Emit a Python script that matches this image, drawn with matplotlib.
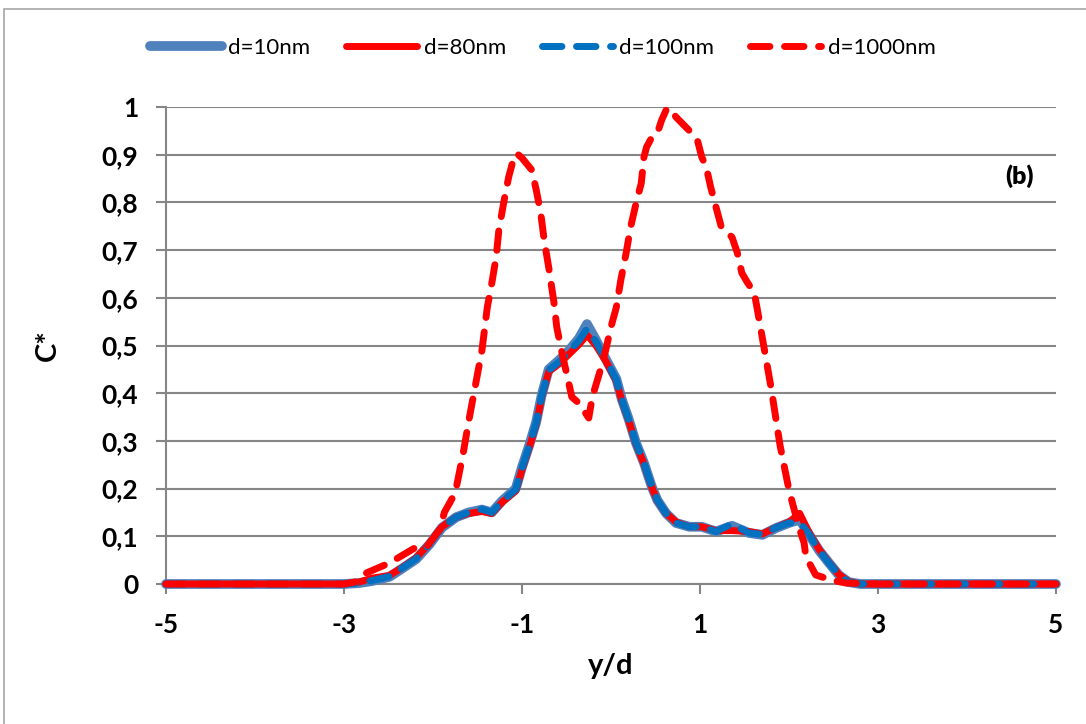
import matplotlib
matplotlib.use("Agg")
import matplotlib.pyplot as plt
from matplotlib.patches import Rectangle

plt.rcParams['font.family'] = ['Lato', 'DejaVu Sans']

# shared y/d positions for the three near-identical profiles
x_small = [-5, -4.5, -4, -3.5, -3, -2.83, -2.69, -2.49, -2.35, -2.19,
           -2.04, -1.90, -1.74, -1.60, -1.45, -1.34, -1.22, -1.07, -1.0, -0.92,
           -0.84, -0.78, -0.70, -0.58, -0.47, -0.36, -0.27, -0.17, -0.06, 0.06,
           0.12, 0.20, 0.28, 0.37, 0.46, 0.52, 0.62, 0.73, 0.88, 1.02,
           1.18, 1.36, 1.55, 1.70, 1.85, 2.0, 2.12, 2.22, 2.34, 2.45,
           2.56, 2.67, 2.8, 3, 3.5, 4, 4.5, 5]

c_10 = [0, 0, 0, 0, 0, 0.002, 0.006, 0.015, 0.032, 0.052,
        0.083, 0.118, 0.14, 0.15, 0.156, 0.15, 0.175, 0.2, 0.245, 0.29,
        0.34, 0.395, 0.45, 0.47, 0.49, 0.515, 0.545, 0.512, 0.472, 0.43,
        0.388, 0.345, 0.296, 0.254, 0.203, 0.176, 0.148, 0.128, 0.12, 0.12,
        0.11, 0.122, 0.107, 0.103, 0.117, 0.128, 0.135, 0.105, 0.07, 0.044,
        0.019, 0.004, 0, 0, 0, 0, 0, 0]

c_80 = [0, 0, 0, 0, 0, 0.004, 0.012, 0.018, 0.034, 0.055,
        0.085, 0.12, 0.14, 0.148, 0.152, 0.148, 0.172, 0.195, 0.24, 0.285,
        0.335, 0.39, 0.445, 0.462, 0.482, 0.502, 0.522, 0.50, 0.468, 0.425,
        0.385, 0.342, 0.294, 0.252, 0.202, 0.175, 0.148, 0.13, 0.12, 0.12,
        0.112, 0.112, 0.11, 0.105, 0.118, 0.13, 0.148, 0.11, 0.072, 0.045,
        0.02, 0.005, 0, 0, 0, 0, 0, 0]

c_100 = [0, 0, 0, 0, 0, 0.002, 0.007, 0.016, 0.033, 0.053,
         0.084, 0.119, 0.14, 0.15, 0.157, 0.15, 0.174, 0.198, 0.243, 0.288,
         0.338, 0.393, 0.448, 0.466, 0.487, 0.51, 0.535, 0.508, 0.47, 0.428,
         0.387, 0.344, 0.296, 0.254, 0.203, 0.176, 0.148, 0.128, 0.12, 0.12,
         0.11, 0.126, 0.107, 0.104, 0.118, 0.128, 0.13, 0.106, 0.07, 0.044,
         0.019, 0.004, 0, 0, 0, 0, 0, 0]

x_1000 = [-5, -4.5, -4, -3.5, -3, -2.85, -2.75, -2.49, -2.21, -2.07,
          -1.93, -1.87, -1.75, -1.66, -1.60, -1.52, -1.45, -1.39, -1.34, -1.29,
          -1.26, -1.20, -1.15, -1.09, -1.06, -1.0, -0.89, -0.84, -0.79, -0.75,
          -0.70, -0.64, -0.61, -0.55, -0.49, -0.44, -0.36, -0.25, -0.21, -0.13,
          -0.06, 0.0, 0.06, 0.11, 0.17, 0.22, 0.29, 0.34, 0.37, 0.40,
          0.46, 0.52, 0.57, 0.63, 0.67, 0.73, 0.84, 0.91, 0.97, 1.02,
          1.07, 1.12, 1.18, 1.24, 1.36, 1.42, 1.47, 1.53, 1.61, 1.64,
          1.80, 1.90, 2.0, 2.11, 2.17, 2.19, 2.30, 2.48, 2.64, 3,
          3.5, 4, 4.5, 5]

c_1000 = [0, 0, 0, 0, 0, 0.005, 0.023, 0.044, 0.075, 0.078,
          0.113, 0.151, 0.191, 0.275, 0.34, 0.42, 0.49, 0.58, 0.63, 0.686,
          0.742, 0.805, 0.853, 0.895, 0.903, 0.893, 0.868, 0.826, 0.778, 0.72,
          0.664, 0.589, 0.539, 0.484, 0.434, 0.392, 0.379, 0.348, 0.392, 0.442,
          0.49, 0.539, 0.58, 0.637, 0.694, 0.748, 0.805, 0.84, 0.895, 0.916,
          0.937, 0.945, 0.973, 0.998, 0.994, 0.979, 0.958, 0.945, 0.931, 0.895,
          0.874, 0.832, 0.79, 0.748, 0.727, 0.694, 0.652, 0.633, 0.61, 0.58,
          0.41, 0.29, 0.197, 0.12, 0.086, 0.057, 0.019, 0.008, 0.002, 0,
          0, 0, 0, 0]

x_ticks = [-5, -3, -1, 1, 3, 5]
y_ticks = [0, 0.1, 0.2, 0.3, 0.4, 0.5, 0.6, 0.7, 0.8, 0.9, 1]
y_ticklabels = ['0', '0,1', '0,2', '0,3', '0,4', '0,5', '0,6', '0,7', '0,8', '0,9', '1']

fig = plt.figure(figsize=(10.86, 7.24), dpi=100)
ax = fig.add_axes([166 / 1086, 1 - 584 / 724, 890 / 1086, 477 / 724])

# light frame around the whole chart, like the Excel chart area
fig.patches.append(Rectangle((4 / 1086, -0.05), 1.1, 1.05 - 9 / 724,
                             transform=fig.transFigure, fill=False,
                             edgecolor='#a6a6a6', linewidth=1.2))

dash = (0, (2.8, 2.1))
ax.plot(x_small, c_10, color='#4f81bd', lw=7, solid_capstyle='round',
        label='d=10nm', clip_on=False, zorder=3)
ax.plot(x_small, c_80, color='#ff0000', lw=5, solid_capstyle='round',
        label='d=80nm', clip_on=False, zorder=4)
ax.plot(x_small, c_100, color='#0070c0', lw=5, linestyle=dash, dash_capstyle='round',
        label='d=100nm', clip_on=False, zorder=5)
ax.plot(x_1000, c_1000, color='#ff0000', lw=5, linestyle=dash, dash_capstyle='round',
        label='d=1000nm', clip_on=False, zorder=6)

ax.set_xlim(-5, 5)
ax.set_ylim(0, 1)
ax.set_xticks(x_ticks)
ax.set_xticklabels([str(t) for t in x_ticks])
ax.set_yticks(y_ticks)
ax.set_yticklabels(y_ticklabels)

ax.grid(axis='y', color='#868686', lw=1.5, zorder=1)
ax.set_axisbelow(True)
for s in ['top', 'right']:
    ax.spines[s].set_visible(False)
ax.spines['left'].set_color('#868686')
ax.spines['left'].set_linewidth(1.5)
ax.spines['bottom'].set_color('#868686')
ax.spines['bottom'].set_linewidth(1.5)
ax.tick_params(axis='both', colors='#868686', width=1.5, length=7,
               labelcolor='black', labelsize=19)
ax.tick_params(axis='y', pad=13)
ax.tick_params(axis='x', pad=14)
for lab in ax.get_xticklabels() + ax.get_yticklabels():
    lab.set_fontweight('bold')

ax.set_xlabel('y/d', fontsize=21, fontweight='bold')
ax.xaxis.set_label_coords(0.5, -0.145)
ax.set_ylabel('C*', fontsize=21, fontweight='bold')
ax.yaxis.set_label_coords(-0.118, 0.5)

ax.text(0.975, 0.855, '(b)', transform=ax.transAxes, ha='right', va='center',
        fontsize=18, fontweight='heavy')

fig.legend(loc='center', bbox_to_anchor=(0.5, 1 - 48 / 724), ncol=4, frameon=False,
           fontsize=16, handlelength=3.2, handletextpad=0.3, columnspacing=1.6)

fig.savefig('out.png', dpi=100)
